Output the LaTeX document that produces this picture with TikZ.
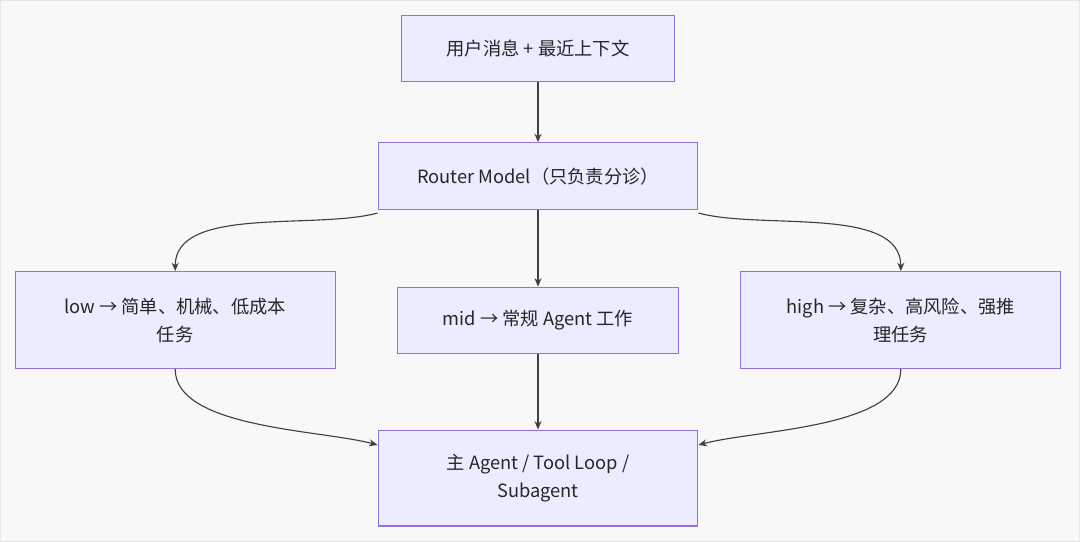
\documentclass[tikz,border=0pt]{standalone}
\usepackage{fontspec}
\setmainfont{Noto Sans CJK SC}
\usetikzlibrary{positioning,arrows.meta}
\definecolor{boxfill}{HTML}{ECECFF}
\definecolor{boxdraw}{HTML}{9370DB}
\definecolor{bgfill}{HTML}{F8F8F8}
\begin{document}
\begin{tikzpicture}[x=0.025cm,y=-0.025cm]
    \tikzstyle{stage}=[rectangle, draw=boxdraw, fill=boxfill, line width=0.8pt, align=center, font=\fontsize{13}{20}\selectfont, text=black!85]
    \tikzstyle{connect}=[line width=0.8pt, draw=black!75, -{Stealth[length=6pt,width=5pt]}]
    \fill[bgfill, draw=black!10] (0,0) rectangle (1080,541);
    \useasboundingbox (0,0) rectangle (1080,541);
    \node[stage, minimum width=274*0.025cm, minimum height=66*0.025cm] (input) at (538,48) {用户消息 + 最近上下文};
    \node[stage, minimum width=320*0.025cm, minimum height=67*0.025cm] (router) at (538,176) {Router Model（只负责分诊）};
    \node[stage, minimum width=320*0.025cm, minimum height=97*0.025cm] (low) at (175,320) {low → 简单、机械、低成本\\任务};
    \node[stage, minimum width=281*0.025cm, minimum height=66*0.025cm] (mid) at (538,320) {mid → 常规 Agent 工作};
    \node[stage, minimum width=320*0.025cm, minimum height=97*0.025cm] (high) at (901,320) {high → 复杂、高风险、强推\\理任务};
    \node[stage, minimum width=320*0.025cm, minimum height=96*0.025cm] (main) at (538,478) {主 Agent / Tool Loop /\\Subagent};
    \path (input) edge [connect] (router);
    \path (router) edge [connect] (mid);
    \path (mid) edge [connect] (main);
    \draw[connect] ([yshift=-2pt]router.south west) to[out=195,in=90,looseness=0.8] (low.north);
    \draw[connect] ([yshift=-2pt]router.south east) to[out=-15,in=90,looseness=0.8] (high.north);
    \draw[connect] (low.south) to[out=-90,in=165,looseness=0.7] ([yshift=-11pt]main.north west);
    \draw[connect] (high.south) to[out=-90,in=15,looseness=0.7] ([yshift=-11pt]main.north east);
\end{tikzpicture}
\end{document}
